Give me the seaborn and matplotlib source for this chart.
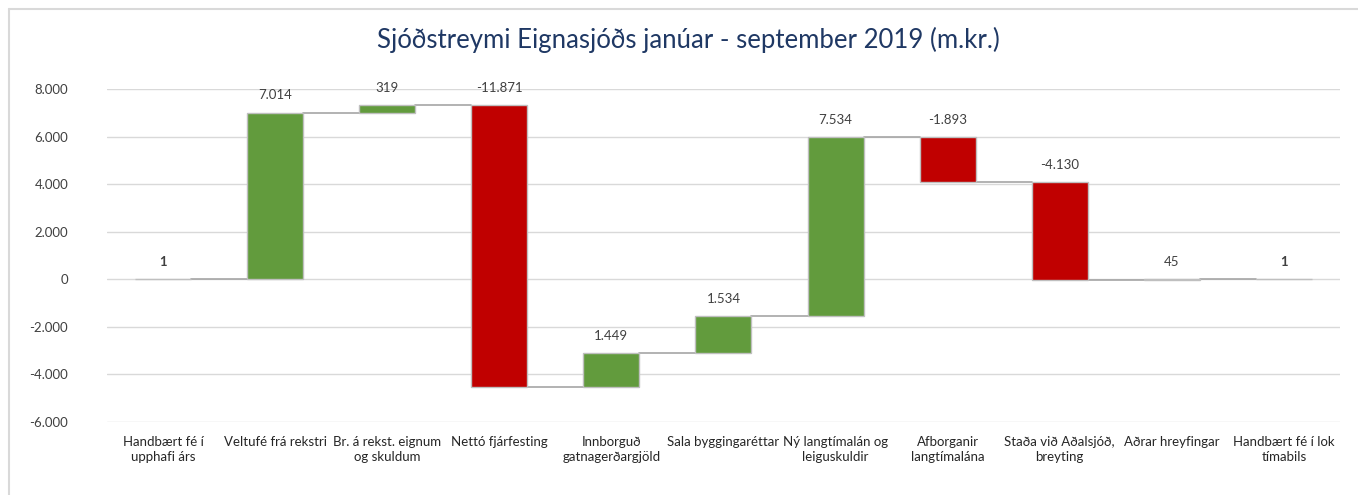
import matplotlib
matplotlib.use("Agg")
import matplotlib.pyplot as plt
from matplotlib.lines import Line2D
import numpy as np
import pandas as pd
import seaborn as sns

# Cash-flow components (m.kr.), in order
categories = [
    "Handbært fé í\nupphafi árs",
    "Veltufé frá rekstri",
    "Br. á rekst. eignum\nog skuldum",
    "Nettó fjárfesting",
    "Innborguð\ngatnagerðargjöld",
    "Sala byggingaréttar",
    "Ný langtímalán og\nleiguskuldir",
    "Afborganir\nlangtímalána",
    "Staða við Aðalsjóð,\nbreyting",
    "Aðrar hreyfingar",
    "Handbært fé í lok\ntímabils",
]
values = [1, 7014, 319, -11871, 1449, 1534, 7534, -1893, -4130, 45, 1]
is_total = [True, False, False, False, False, False, False, False, False, False, True]
y_ticks = [-6000, -4000, -2000, 0, 2000, 4000, 6000, 8000]

GREEN = "#629b3d"
RED = "#c00000"
TOTAL = "#d0d0d0"

# Running totals: each change bar starts where the previous one ended
bottoms, ends = [], []
level = 0.0
for v, tot in zip(values, is_total):
    if tot:
        bottoms.append(0.0)
        level = v
    else:
        bottoms.append(level)
        level = level + v
    ends.append(level)

colors = [TOTAL if t else (GREEN if v >= 0 else RED) for v, t in zip(values, is_total)]
df = pd.DataFrame({"cat": categories, "value": values})


def fmt(v):
    return f"{v:,.0f}".replace(",", ".")


sns.set_theme(style="white")
plt.rcParams["font.family"] = ["Lato", "DejaVu Sans"]

fig = plt.figure(figsize=(13.58, 4.95), dpi=100)
ax = fig.add_axes([0.0788, 0.1475, 0.9079, 0.6725])

sns.barplot(data=df, x="cat", y="value", hue="cat", palette=colors, legend=False,
            width=0.5, edgecolor="#bfbfbf", linewidth=1.0, saturation=1, ax=ax, zorder=3)

# Float each bar on its running total
for patch, b in zip(ax.patches, bottoms):
    patch.set_y(b)

# Connector lines between consecutive bars
for i in range(len(values) - 1):
    ax.plot([i + 0.25, i + 0.75], [ends[i], ends[i]], color="#a6a6a6", lw=1.2, zorder=2)

# Value labels above each bar
for i, (v, b, e, t) in enumerate(zip(values, bottoms, ends, is_total)):
    top = max(b, e)
    ax.annotate(fmt(v), xy=(i, top), xytext=(0, 8), textcoords="offset points",
                ha="center", va="bottom", fontsize=9.5, color="#404040",
                fontweight="bold" if t else "normal")

ax.set_ylim(-6000, 8000)
ax.set_xlim(-0.5, len(values) - 0.5)
ax.set_yticks(y_ticks)
ax.set_yticklabels([fmt(t) for t in y_ticks], fontsize=9.5, color="#404040")
ax.tick_params(axis="y", length=0, pad=28)
ax.tick_params(axis="x", length=0, pad=10, labelsize=9.5, labelcolor="#262626")
for lbl in ax.get_xticklabels():
    lbl.set_linespacing(1.35)
ax.grid(axis="y", color="#d9d9d9", lw=1, zorder=0)
ax.set_axisbelow(True)
for s in ax.spines.values():
    s.set_visible(False)
ax.set_xlabel("")
ax.set_ylabel("")

fig.suptitle("Sjóðstreymi Eignasjóðs janúar - september 2019 (m.kr.)",
             x=0.507, y=0.945, fontsize=18.5, color="#1f3864")

# Light chart frame along top and left
fig.add_artist(Line2D([9 / 1358, 1], [1 - 9 / 495, 1 - 9 / 495], color="#d9d9d9", lw=1.5,
                      transform=fig.transFigure))
fig.add_artist(Line2D([9 / 1358, 9 / 1358], [0, 1 - 9 / 495], color="#d9d9d9", lw=1.5,
                      transform=fig.transFigure))

fig.savefig("out.png", dpi=100, facecolor="white")
